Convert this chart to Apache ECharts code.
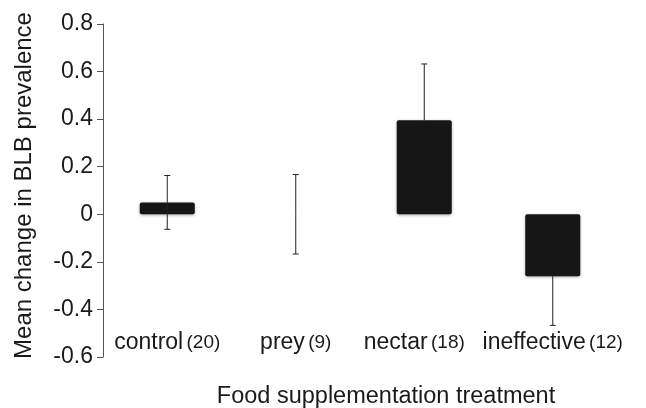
<!DOCTYPE html>
<html>
<head>
<meta charset="utf-8">
<script src="https://cdn.jsdelivr.net/npm/echarts@6/dist/echarts.min.js"></script>
<style>html,body{margin:0;padding:0;background:#fff;}#c{width:646px;height:408px;}</style>
</head>
<body>
<div id="c"></div>
<script>
var categories = ['control', 'prey', 'nectar', 'ineffective'];
var sampleSizes = ['(20)', '(9)', '(18)', '(12)'];
var means = [0.05, 0, 0.395, -0.26];
var errUp = [0.113, 0.167, 0.237, 0];
var errDown = [0.113, 0.167, 0, 0.207];
var yTicks = [-0.6, -0.4, -0.2, 0, 0.2, 0.4, 0.6, 0.8];
var yTickLabels = ['-0.6', '-0.4', '-0.2', '0', '0.2', '0.4', '0.6', '0.8'];

var FONT = "'Liberation Sans', Arial, Helvetica, sans-serif";
var chart = echarts.init(document.getElementById('c'));

var errData = categories.map(function (c, i) {
  return [i, means[i] - errDown[i], means[i] + errUp[i]];
});

chart.setOption({
  animation: false,
  grid: { left: 103, right: 29, top: 24, bottom: 51, containLabel: false, outerBoundsMode: 'none' },
  xAxis: {
    type: 'category',
    data: categories,
    axisLine: { show: false },
    axisTick: { show: false },
    axisLabel: {
      interval: 0,
      hideOverlap: false,
      margin: -14,
      verticalAlign: 'middle',
      formatter: function (v, i) {
        var s = '{a|' + v + '} {b|' + sampleSizes[i] + '}';
        if (i === 2) s += '{s|}';
        return s;
      },
      rich: {
        a: { fontSize: 23, fontFamily: FONT, color: '#1a1a1a' },
        b: { fontSize: 19, fontFamily: FONT, color: '#1a1a1a' },
        s: { width: 20 }
      }
    },
    name: 'Food supplementation treatment',
    nameLocation: 'middle',
    nameGap: 28,
    nameTextStyle: { fontSize: 23.5, fontFamily: FONT, color: '#1a1a1a', padding: [0, 0, 0, 52] }
  },
  yAxis: {
    type: 'value',
    min: -0.6,
    max: 0.8,
    interval: 0.2,
    splitLine: { show: false },
    axisLine: { show: true, lineStyle: { color: '#555', width: 1 } },
    axisTick: { show: true, length: 6, lineStyle: { color: '#555' } },
    axisLabel: {
      margin: 10,
      fontSize: 23,
      fontFamily: FONT,
      color: '#1a1a1a',
      formatter: function (v) {
        var idx = yTicks.findIndex(function (t) { return Math.abs(t - v) < 1e-6; });
        return idx >= 0 ? yTickLabels[idx] : '';
      }
    },
    name: 'Mean change in BLB prevalence',
    nameLocation: 'middle',
    nameGap: 67,
    nameRotate: 90,
    nameTextStyle: { fontSize: 24, fontFamily: FONT, color: '#1a1a1a', padding: [0, 0, 0, 10] }
  },
  series: [
    {
      type: 'bar',
      data: means,
      barWidth: 55,
      itemStyle: {
        color: '#161616',
        borderRadius: 2,
        shadowColor: 'rgba(0,0,0,0.35)',
        shadowBlur: 3,
        shadowOffsetY: 1
      },
      z: 2
    },
    {
      type: 'custom',
      data: errData,
      z: 3,
      renderItem: function (params, api) {
        var x = api.value(0);
        var lo = api.coord([x, api.value(1)]);
        var hi = api.coord([x, api.value(2)]);
        var mid = api.coord([x, means[params.dataIndex]]);
        var cap = 3;
        var st = { stroke: '#222', lineWidth: 1 };
        var children = [];
        if (errUp[params.dataIndex] > 0) {
          children.push({ type: 'line', shape: { x1: hi[0], y1: hi[1], x2: mid[0], y2: mid[1] }, style: st });
          children.push({ type: 'line', shape: { x1: hi[0] - cap, y1: hi[1], x2: hi[0] + cap, y2: hi[1] }, style: st });
        }
        if (errDown[params.dataIndex] > 0) {
          children.push({ type: 'line', shape: { x1: lo[0], y1: lo[1], x2: mid[0], y2: mid[1] }, style: st });
          children.push({ type: 'line', shape: { x1: lo[0] - cap, y1: lo[1], x2: lo[0] + cap, y2: lo[1] }, style: st });
        }
        return { type: 'group', children: children };
      }
    }
  ]
});
</script>
</body>
</html>
